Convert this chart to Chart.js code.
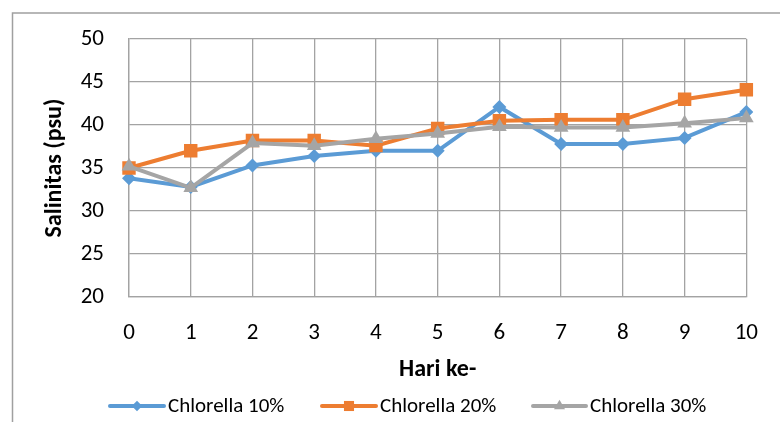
<!DOCTYPE html>
<html><head><meta charset="utf-8">
<script src="https://cdn.jsdelivr.net/npm/chart.js@4"></script>
<style>html,body{margin:0;padding:0;background:#fff}canvas{display:block}</style>
</head><body>
<canvas id="c" width="780" height="422"></canvas>
<script>
const days = ['0','1','2','3','4','5','6','7','8','9','10'];
const seriesNames = ['Chlorella 10%','Chlorella 20%','Chlorella 30%'];
const chl10 = [33.8, 32.8, 35.3, 36.4, 37.0, 37.0, 42.1, 37.8, 37.8, 38.5, 41.5];
const chl20 = [35.0, 37.0, 38.2, 38.2, 37.6, 39.6, 40.5, 40.6, 40.6, 43.0, 44.1];
const chl30 = [35.2, 32.7, 37.9, 37.6, 38.4, 39.0, 39.8, 39.7, 39.7, 40.2, 40.8];
const yMin = 20, yMax = 50, yStep = 5;
const xTitle = 'Hari ke-';
const yTitle = 'Salinitas (psu)';

const FONT = "Carlito, Lato, 'Open Sans', sans-serif";
const colors = ['#5B9BD5', '#ED7D31', '#A5A5A5'];
const styles = ['rectRot', 'rect', 'triangle'];
const radii = [7, 9.5, 8.5];
const gridColor = '#a3a3a3';

const overlay = {
  id: 'overlay',
  beforeDraw(chart) {
    const ctx = chart.ctx;
    ctx.save();
    ctx.fillStyle = '#fff';
    ctx.fillRect(0, 0, chart.width, chart.height);
    ctx.strokeStyle = '#a0a0a0';
    ctx.lineWidth = 1.5;
    ctx.beginPath();
    ctx.moveTo(12.5, 422);
    ctx.lineTo(12.5, 13);
    ctx.lineTo(780, 13);
    ctx.stroke();
    ctx.restore();
  },
  afterDraw(chart) {
    const ctx = chart.ctx;
    const ca = chart.chartArea;
    ctx.save();
    ctx.fillStyle = '#000';
    ctx.font = "bold 24px " + FONT;
    ctx.textAlign = 'center';
    ctx.textBaseline = 'middle';
    ctx.fillText(xTitle, (ca.left + ca.right) / 2, 370);
    ctx.save();
    ctx.translate(55, (ca.top + ca.bottom) / 2);
    ctx.rotate(-Math.PI / 2);
    ctx.fillText(yTitle, 0, 0);
    ctx.restore();
    // legend
    const items = [[110, 168], [322, 380], [533, 590]];
    const ly = 406;
    ctx.font = "21px " + FONT;
    ctx.textAlign = 'left';
    chart.data.datasets.forEach((ds, i) => {
      const [x0, tx] = items[i];
      ctx.strokeStyle = ds.borderColor;
      ctx.lineWidth = 4;
      ctx.lineCap = 'round';
      ctx.beginPath();
      ctx.moveTo(x0, ly);
      ctx.lineTo(tx - 4, ly);
      ctx.stroke();
      ctx.fillStyle = ds.borderColor;
      ctx.strokeStyle = ds.borderColor;
      Chart.helpers.drawPoint(ctx, {pointStyle: ds.pointStyle, rotation: 0, radius: ds.pointRadius * 0.75, borderWidth: 0}, (x0 + tx - 4) / 2, ly);
      ctx.fillStyle = '#000';
      ctx.fillText(ds.label, tx, ly + 1);
    });
    ctx.restore();
  }
};

const values = [chl10, chl20, chl30];
new Chart(document.getElementById('c'), {
  type: 'line',
  data: {
    labels: days,
    datasets: values.map((v, i) => ({
      label: seriesNames[i],
      data: v,
      borderColor: colors[i],
      backgroundColor: colors[i],
      pointBackgroundColor: colors[i],
      pointBorderColor: colors[i],
      pointBorderWidth: 0,
      borderWidth: 4,
      pointStyle: styles[i],
      pointRadius: radii[i],
      pointHoverRadius: radii[i],
      tension: 0,
      fill: false,
      order: 3 - i
    }))
  },
  options: {
    responsive: false,
    animation: false,
    devicePixelRatio: 1,
    layout: {padding: {left: 0, right: 31, top: 39, bottom: 0}},
    plugins: {legend: {display: false}, tooltip: {enabled: false}},
    scales: {
      x: {
        offset: false,
        grid: {color: gridColor, lineWidth: 1.3, drawTicks: false},
        border: {color: gridColor, width: 1.3},
        ticks: {color: '#000', font: {family: FONT, size: 23}, padding: 22, maxRotation: 0, autoSkip: false},
        afterFit(s) { s.height = 125; }
      },
      y: {
        min: yMin, max: yMax,
        grid: {color: gridColor, lineWidth: 1.3, drawTicks: false},
        border: {color: gridColor, width: 1.3},
        ticks: {stepSize: yStep, color: '#000', font: {family: FONT, size: 23}, padding: 25},
        afterFit(s) { s.width = 129; }
      }
    }
  },
  plugins: [overlay]
});
</script>
</body></html>
